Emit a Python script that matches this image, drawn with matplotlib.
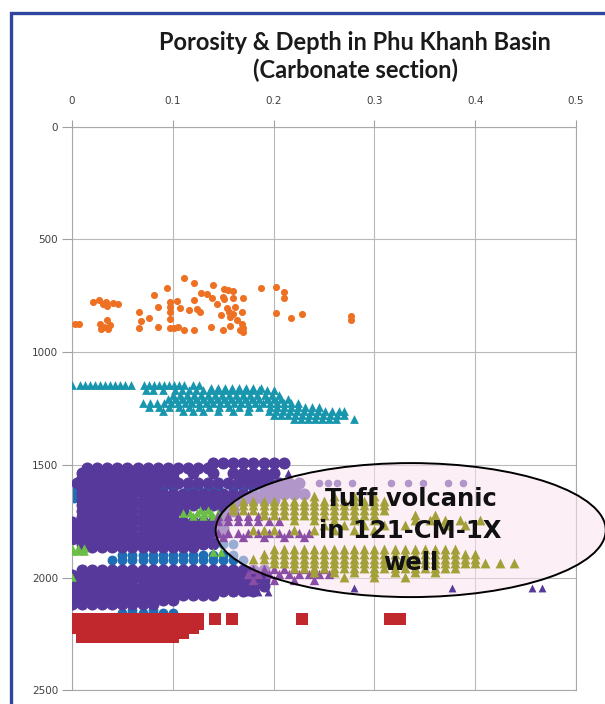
import numpy as np
import matplotlib.pyplot as plt
from matplotlib.patches import Ellipse, Rectangle

# ---- data: porosity (fraction or %) and depth (m) ----

# orange circles (fraction, m)
orange_por = [0.003, 0.007, 0.021, 0.027, 0.031, 0.034, 0.035, 0.041, 0.046, 0.028,
              0.032, 0.035, 0.038, 0.029, 0.036, 0.066, 0.068, 0.076, 0.066, 0.081,
              0.085, 0.085, 0.094, 0.097, 0.097, 0.097, 0.097, 0.097, 0.101, 0.105,
              0.104, 0.107, 0.111, 0.111, 0.116, 0.121, 0.121, 0.121, 0.124, 0.127,
              0.128, 0.134, 0.138, 0.139, 0.140, 0.144, 0.148, 0.151, 0.155, 0.160,
              0.150, 0.151, 0.150, 0.154, 0.156, 0.157, 0.160, 0.160, 0.157, 0.164,
              0.169, 0.170, 0.170, 0.170, 0.169, 0.162, 0.167, 0.187, 0.202, 0.210,
              0.210, 0.202, 0.217, 0.228, 0.277, 0.277]
orange_depth = [877, 877, 777, 768, 785, 777, 794, 782, 786, 877,
                887, 858, 880, 898, 899, 821, 862, 847, 895, 747,
                799, 889, 714, 777, 799, 821, 853, 892, 895, 887,
                774, 806, 673, 903, 813, 695, 769, 903, 809, 824,
                739, 744, 887, 759, 703, 788, 836, 720, 724, 729,
                754, 765, 903, 806, 821, 843, 832, 762, 884, 858,
                877, 895, 910, 762, 821, 799, 902, 717, 712, 732,
                762, 828, 850, 831, 840, 858]

# teal triangles, rows of (depth, porosity %)
teal_rows = [
    (1147, [0, 0.8, 1.3, 1.8, 2.3, 2.8, 3.3, 3.8, 4.3, 4.8, 5.3, 5.9, 7.1, 7.6, 8.1,
            8.6, 9.1, 9.6, 10.1, 10.6, 11.1, 12.0, 12.6]),
    (1158, [13.8, 14.5, 15.2, 15.9, 16.6, 17.3, 18.0, 18.7]),
    (1170, [7.3, 8.0, 9.0, 10.2, 10.9, 11.6, 12.3, 13.0, 13.7, 14.4, 15.1, 15.8, 16.5,
            17.2, 17.9, 18.6, 19.3, 20.0]),
    (1188, [10.0, 10.7, 11.4, 12.1, 12.8, 13.5, 14.2, 14.9, 15.6, 16.3, 17.0, 17.7,
            18.4, 19.1, 19.8, 20.5]),
    (1206, [9.5, 10.2, 10.9, 11.6, 12.3, 13.0, 13.7, 14.4, 15.1, 15.8, 16.5, 17.2,
            17.9, 18.6, 19.3, 20.0, 20.7, 21.4]),
    (1224, [7.0, 7.7, 8.4, 9.1, 9.8, 10.5, 11.2, 11.9, 12.6, 13.3, 14.0, 14.7, 15.4,
            16.1, 16.8, 17.5, 18.2, 18.9, 19.6, 20.3, 21.0, 21.7, 22.4]),
    (1242, [7.6, 8.6, 9.6, 10.6, 11.6, 12.6, 13.6, 14.6, 15.6, 16.6, 17.6, 18.6,
            19.6, 20.3, 21.0, 21.7, 22.4, 23.1, 23.8, 24.5]),
    (1260, [9.0, 11.0, 12.0, 13.0, 14.5, 16.0, 17.5, 19.5, 20.2, 20.9, 21.6, 22.3,
            23.0, 23.7, 24.4, 25.1, 25.8, 26.5, 27.0]),
    (1278, [20.0, 20.7, 21.4, 22.1, 22.8, 23.5, 24.2, 24.9, 25.6, 26.3, 27.0]),
    (1295, [22.0, 22.7, 23.4, 24.1, 24.8, 25.5, 26.2, 28.0]),
]

# blue circles
blue_rows = [
    (1585, [0.0]), (1600, [0.3]), (1615, [0.0]), (1630, [0.5]), (1645, [0.2]),
    (1603, [9, 10, 11.5, 12.5, 13.5, 14.5, 16, 17, 18]),
    (1615, [10, 12, 14, 16]),
    (1850, [13, 14, 15, 16]),
    (1900, [5, 6, 7, 8, 9, 10, 11, 12, 13, 14, 15, 16]),
    (1922, [4, 5, 6, 7, 8, 9, 10, 11, 12, 13, 14, 15, 16, 17]),
    (2000, [0.0]), (2040, [0.0]), (2100, [0.0]), (2185, [0.0]), (2210, [0.2]),
    (2145, [6, 8]),
    (2155, [5, 6, 7, 8, 9, 10]),
]

# purple circles (main cloud)
purple_rows = [
    (1492, [14, 15, 16, 17, 18, 19, 20, 21]),
    (1512, [1.5, 2.5, 3.5, 4.5, 5.5, 6.5, 7.5, 8.5, 9.5, 10.5, 11.5, 12.5, 13.5]),
    (1535, [1, 2, 3, 4, 5, 6, 7, 8, 9, 10, 12, 14, 16, 17, 18, 19, 20]),
    (1558, [1, 2, 3, 4, 5, 6, 7, 8, 9, 10, 17, 18, 19]),
    (1580, [0.5, 1.5, 2.5, 3.5, 4.5, 5.5, 6.5, 7.5, 8.5, 9.5, 10.5, 11.5, 12.5, 13.5,
            14.5, 15.5, 16.5, 17.5, 18.5, 19.5, 20.5, 21.5, 22.5]),
    (1605, [1, 2, 3, 4, 5, 6, 7, 8, 19, 20, 21, 22]),
    (1630, [1, 2, 3, 4, 5, 6, 7, 8, 9, 10, 11, 12, 13, 14, 15, 16, 17, 18, 19, 20, 21,
            22, 23]),
    (1655, [1, 2, 3, 4, 5, 6, 7, 8, 9, 10, 11, 12, 13, 14, 15, 16, 17, 18, 19, 20]),
    (1680, [1, 2, 3, 4, 5, 6, 7, 8, 9, 10, 11, 12, 13, 14, 15, 16]),
    (1705, [1, 2, 3, 4, 5, 6, 7, 8, 9, 10, 11, 15, 16]),
    (1730, [1, 2, 3, 4, 5, 6, 7, 8, 9, 10, 15]),
    (1755, [0, 1, 2, 3, 4, 5, 6, 7, 8, 9, 10, 11, 12, 13, 14, 15]),
    (1780, [0, 1, 2, 3, 4, 5, 6, 7, 8, 9, 10, 11, 12, 13, 14, 15]),
    (1805, [0, 1, 2, 3, 4, 5, 6, 7, 8, 9, 10, 11, 12, 13, 14, 15]),
    (1830, [0, 1, 2, 3, 4, 5, 6, 7, 8, 9, 10, 11, 12, 13, 14]),
    (1852, [1, 2, 3, 4, 5, 6, 7, 8, 9, 10, 11, 12, 13, 14]),
    (1862, [2, 3, 4, 5, 6, 7, 8, 9, 10, 11, 12]),
    (1968, [1, 2, 3, 4, 5, 6, 7, 8, 9, 10, 11, 12, 13, 14, 15, 16, 17, 18, 19]),
    (1990, [0, 1, 2, 3, 4, 5, 6, 7, 8, 9, 10, 11, 12, 13, 14, 15, 16, 17, 18, 19]),
    (2012, [0, 1, 2, 3, 4, 5, 6, 7, 8, 9, 10, 11, 12, 13, 14, 15, 16, 17, 18, 19]),
    (2035, [0, 1, 2, 3, 4, 5, 6, 7, 8, 9, 10, 11, 12, 13, 14, 15, 16, 17, 18, 19]),
    (2057, [0, 1, 2, 3, 4, 5, 6, 7, 8, 9, 10, 11, 12, 13, 14, 15, 16, 17, 18]),
    (2078, [0, 1, 2, 3, 4, 5, 6, 7, 8, 9, 10, 11, 12, 13, 14]),
    (2098, [0, 1, 2, 3, 4, 5, 6, 7, 8, 9, 10]),
    (2116, [0, 1, 2, 3, 4, 5, 6, 7, 8]),
]
# single purple circles scattered along the top of the ellipse
purple_dot_rows = [
    (1582, [24.5, 25.4, 26.3, 27.8, 31.6, 33.3, 34.8, 37.3, 38.8]),
]

# purple triangles (scattered)
purple_tri_rows = [
    (1538, [17, 18.5, 19.2, 20, 21.4]),
    (2045, [14.7, 28, 37.7, 45.6, 46.6]),
    (2062, [16, 17.5, 18.5, 19.4]),
]

# green triangles
green_rows = [
    (1700, [12.7, 13.5]),
    (1712, [11, 11.7, 12.4, 13.1, 13.8, 14.5]),
    (1725, [12, 13, 14]),
    (1868, [0, 0.6, 1.2]),
    (1880, [0, 0.6, 1.2]),
    (1885, [14, 14.8]),
    (1995, [0]),
]

# olive triangles (tuff, 121-CM-1X)
olive_rows = [
    (1640, [24, 26, 28, 30]),
    (1660, [17, 18, 19, 20, 21, 22, 23, 24, 25, 26, 27, 28, 29, 30, 31]),
    (1680, [16, 17, 18, 19, 20, 21, 22, 23, 24, 25, 26, 27, 28, 29, 30, 31]),
    (1700, [16, 17, 18, 19, 20, 21, 22, 23, 24, 25, 26, 27, 28, 29, 30, 31]),
    (1720, [19, 20, 21, 22, 23, 24, 25, 26, 27, 28, 29, 30, 34, 36]),
    (1745, [22, 24, 26, 28, 30, 34, 35.5, 37, 38.5, 40.5]),
    (1765, [25, 27, 29, 31, 33, 37, 39]),
    (1790, [18, 19, 20, 22, 24, 26, 28, 30]),
    (1875, [20, 21, 22, 23, 24, 25, 26, 27, 28, 29, 30, 31, 32, 33, 34, 35, 36, 37, 38]),
    (1895, [19, 20, 21, 22, 23, 24, 25, 26, 27, 28, 29, 30, 31, 32, 33, 34, 35, 36, 37,
            38, 39, 40]),
    (1915, [18, 19, 20, 21, 22, 23, 24, 25, 26, 27, 28, 29, 30, 31, 32, 33, 34, 35, 36,
            37, 38, 39, 40]),
    (1935, [20, 21, 22, 23, 24, 25, 26, 27, 28, 29, 30, 31, 32, 33, 34, 35, 36, 37, 38,
            39, 40, 41, 42.5, 43.8]),
    (1955, [22, 23, 24, 25, 26, 27, 28, 29, 30, 31, 32, 33, 34, 35, 36, 37, 38]),
    (1975, [24, 26, 28, 30, 32, 34, 36]),
    (1995, [27, 30, 33]),
]

# magenta-purple triangles
magenta_rows = [
    (1725, [14.5, 15.5, 16.5, 17.5, 18.5]),
    (1750, [14.5, 15.5, 16.5, 17.5, 18.5, 19.5, 20.5]),
    (1800, [14.5, 15.5, 16.5, 17.5, 18.5, 19.5, 20.5, 21.5, 22.5, 23.5]),
    (1820, [15, 17, 19, 21, 23]),
    (1960, [18, 19, 20, 21, 22, 23, 24, 25]),
    (1985, [17.5, 18.5, 19.5, 20.5, 21.5, 22.5, 23.5, 24.5, 25.5]),
    (2010, [18, 20, 22, 24]),
]

# red squares
red_rows = [
    (2185, [0.5, 1.5, 2.5, 3.5, 4.5, 5.5, 6.5, 7.5, 8.5, 9.5, 10.5, 11.5, 12.5, 14.2,
            15.9, 22.8, 31.5, 32.5]),
    (2205, [0.5, 1.5, 2.5, 3.5, 4.5, 5.5, 6.5, 7.5, 8.5, 9.5, 10.5, 11.5, 12.5]),
    (2225, [0.5, 1.5, 2.5, 3.5, 4.5, 5.5, 6.5, 7.5, 8.5, 9.5, 10.5, 11.5, 12.0]),
    (2245, [1, 2, 3, 4, 5, 6, 7, 8, 9, 10, 11]),
    (2262, [1, 2, 3, 4, 5, 6, 7, 8, 9, 10]),
]

x_ticks = [0, 0.1, 0.2, 0.3, 0.4, 0.5]
x_labels = ["0", "0.1", "0.2", "0.3", "0.4", "0.5"]
y_ticks = [0, 500, 1000, 1500, 2000, 2500]
y_labels = ["0", "500", "1000", "1500", "2000", "2500"]


def unpack(rows):
    por, dep = [], []
    for d, vals in rows:
        for v in vals:
            por.append(v / 100.0)
            dep.append(d)
    return np.array(por), np.array(dep)


fig = plt.figure(figsize=(6.05, 7.04), dpi=100)
ax = fig.add_axes([0.119, 0.0192, 0.8331, 0.8011])

p, d = unpack(blue_rows)
ax.scatter(p, d, s=50, marker="o", color="#1f6db5", linewidths=0, zorder=2)
p, d = unpack(purple_rows)
ax.scatter(p, d, s=75, marker="o", color="#57399b", linewidths=0, zorder=3)
p, d = unpack(purple_dot_rows)
ax.scatter(p, d, s=30, marker="o", color="#57399b", linewidths=0, zorder=3)

# pink fill of the annotation ellipse sits over the main cloud
ell = Ellipse((0.336, 1789), 0.387, 594, facecolor="#fbe3ef", alpha=0.55,
              edgecolor="none", zorder=3.5, clip_on=False)
ax.add_patch(ell)

p, d = unpack(green_rows)
ax.scatter(p, d, s=38, marker="^", color="#6abd45", linewidths=0, zorder=4)
p, d = unpack(magenta_rows)
ax.scatter(p, d, s=45, marker="^", color="#8a4ea6", linewidths=0, zorder=4)
p, d = unpack(olive_rows)
ax.scatter(p, d, s=50, marker="^", color="#a3a03a", linewidths=0, zorder=4)
p, d = unpack(purple_tri_rows)
ax.scatter(p, d, s=32, marker="^", color="#57399b", linewidths=0, zorder=4)
p, d = unpack(red_rows)
ax.scatter(p, d, s=70, marker="s", color="#c0282e", linewidths=0, zorder=4)
ax.scatter(orange_por, orange_depth, s=26, marker="o", color="#ee7023",
           linewidths=0, zorder=4)
p, d = unpack(teal_rows)
ax.scatter(p, d, s=40, marker="^", color="#1896ad", linewidths=0, zorder=4)

ax.set_xlim(0, 0.5)
ax.set_ylim(2500, 0)
ax.xaxis.tick_top()
ax.set_xticks(x_ticks)
ax.set_xticklabels(x_labels)
ax.set_yticks(y_ticks)
ax.set_yticklabels(y_labels)
ax.tick_params(axis="x", length=5, pad=10, color="#a0a0a0", labelsize=7.5,
               labelcolor="#404040")
ax.tick_params(axis="y", length=7, pad=3, color="#a0a0a0", labelsize=7.5,
               labelcolor="#404040")
ax.grid(True, color="#b8b8b8", linewidth=0.8)
ax.set_axisbelow(True)
for s in ax.spines.values():
    s.set_color("#a8a8a8")
    s.set_linewidth(0.8)

ell2 = Ellipse((0.336, 1789), 0.387, 594, facecolor="none", edgecolor="black",
               linewidth=1.4, zorder=6, clip_on=False)
ax.add_patch(ell2)
ax.text(0.336, 1795, "Tuff volcanic\nin 121-CM-1X\nwell", ha="center", va="center",
        fontsize=17.5, fontweight="bold", linespacing=1.42, color="#111111", zorder=7)

fig.text(0.587, 0.940, "Porosity & Depth in Phu Khanh Basin", ha="center",
         va="center", fontsize=17, fontweight="bold", family="Lato", color="#1a1a1a")
fig.text(0.587, 0.900, "(Carbonate section)", ha="center", va="center",
         fontsize=17, fontweight="bold", family="Lato", color="#1a1a1a")

border = Rectangle((0.0182, -0.1), 1.2, 1.081, transform=fig.transFigure,
                   fill=False, edgecolor="#2f45a0", linewidth=2.4, clip_on=False)
fig.patches.append(border)

fig.savefig("out.png", dpi=100)
